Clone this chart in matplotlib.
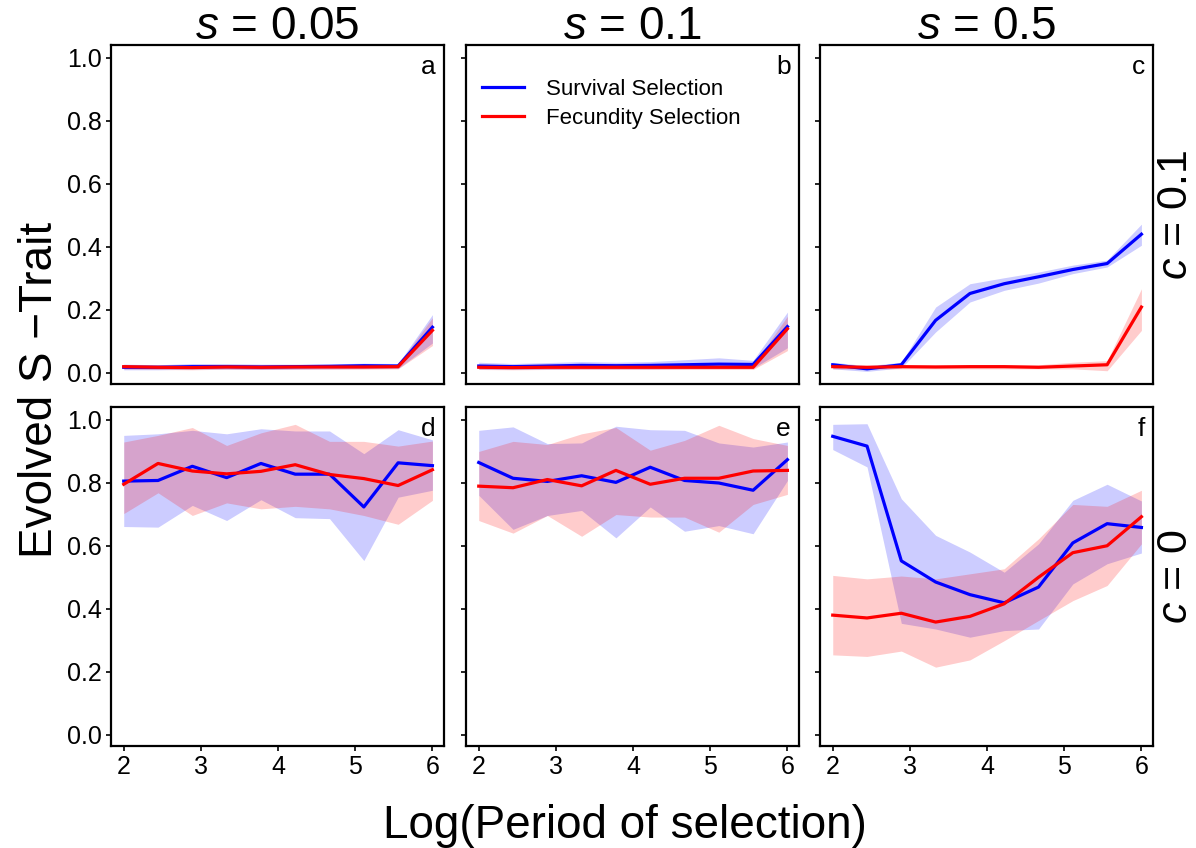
import numpy as np
import matplotlib
matplotlib.use('Agg')
import matplotlib.pyplot as plt

plt.rcParams['font.family'] = ['Liberation Sans', 'DejaVu Sans']
plt.rcParams['mathtext.fontset'] = 'custom'
plt.rcParams['mathtext.it'] = 'Liberation Sans:italic'
plt.rcParams['mathtext.rm'] = 'Liberation Sans'

# log(period of selection), 10 points per panel
log_period = np.linspace(2, 6, 10)

s_labels = ['0.05', '0.1', '0.5']
c_labels = ['0.1', '0']
panel_letters = ['a', 'b', 'c', 'd', 'e', 'f']

# --- row c = 0.1 ---
surv_a = [0.018, 0.018, 0.020, 0.020, 0.019, 0.020, 0.021, 0.023, 0.022, 0.145]
surv_a_lo = [0.010, 0.010, 0.012, 0.012, 0.011, 0.012, 0.013, 0.014, 0.014, 0.095]
surv_a_hi = [0.028, 0.026, 0.030, 0.030, 0.028, 0.028, 0.029, 0.031, 0.030, 0.185]
fec_a = [0.020, 0.018, 0.017, 0.019, 0.018, 0.019, 0.019, 0.019, 0.020, 0.135]
fec_a_lo = [0.013, 0.011, 0.010, 0.012, 0.011, 0.012, 0.012, 0.012, 0.013, 0.087]
fec_a_hi = [0.027, 0.025, 0.024, 0.026, 0.025, 0.026, 0.026, 0.026, 0.027, 0.175]

surv_b = [0.022, 0.020, 0.022, 0.024, 0.023, 0.024, 0.026, 0.028, 0.027, 0.147]
surv_b_lo = [0.012, 0.011, 0.012, 0.013, 0.013, 0.013, 0.014, 0.015, 0.015, 0.080]
surv_b_hi = [0.034, 0.030, 0.033, 0.036, 0.034, 0.036, 0.042, 0.048, 0.040, 0.193]
fec_b = [0.018, 0.017, 0.018, 0.018, 0.018, 0.018, 0.018, 0.018, 0.018, 0.140]
fec_b_lo = [0.011, 0.010, 0.011, 0.011, 0.011, 0.011, 0.011, 0.011, 0.011, 0.071]
fec_b_hi = [0.025, 0.024, 0.025, 0.025, 0.025, 0.025, 0.025, 0.025, 0.025, 0.180]

surv_c = [0.026, 0.013, 0.026, 0.167, 0.252, 0.283, 0.305, 0.328, 0.347, 0.440]
surv_c_lo = [0.013, 0.005, 0.016, 0.130, 0.225, 0.262, 0.285, 0.315, 0.336, 0.405]
surv_c_hi = [0.034, 0.023, 0.034, 0.209, 0.283, 0.302, 0.320, 0.342, 0.358, 0.472]
fec_c = [0.020, 0.018, 0.020, 0.019, 0.020, 0.020, 0.018, 0.022, 0.026, 0.209]
fec_c_lo = [0.013, 0.013, 0.013, 0.013, 0.013, 0.013, 0.013, 0.013, 0.007, 0.135]
fec_c_hi = [0.026, 0.023, 0.026, 0.026, 0.026, 0.026, 0.026, 0.034, 0.039, 0.267]

# --- row c = 0 ---
surv_d = [0.805, 0.807, 0.852, 0.816, 0.861, 0.827, 0.827, 0.723, 0.863, 0.854]
surv_d_lo = [0.661, 0.659, 0.728, 0.680, 0.746, 0.689, 0.686, 0.553, 0.754, 0.776]
surv_d_hi = [0.950, 0.955, 0.966, 0.955, 0.971, 0.964, 0.964, 0.892, 0.968, 0.936]
fec_d = [0.795, 0.861, 0.837, 0.828, 0.836, 0.857, 0.826, 0.813, 0.791, 0.841]
fec_d_lo = [0.702, 0.768, 0.696, 0.736, 0.717, 0.725, 0.717, 0.696, 0.668, 0.744]
fec_d_hi = [0.929, 0.950, 0.975, 0.918, 0.958, 0.985, 0.931, 0.931, 0.916, 0.932]

surv_e = [0.864, 0.814, 0.804, 0.822, 0.801, 0.849, 0.807, 0.799, 0.776, 0.873]
surv_e_lo = [0.760, 0.652, 0.696, 0.712, 0.625, 0.723, 0.646, 0.664, 0.638, 0.807]
surv_e_hi = [0.966, 0.977, 0.924, 0.926, 0.979, 0.968, 0.966, 0.926, 0.913, 0.929]
fec_e = [0.789, 0.784, 0.810, 0.790, 0.839, 0.795, 0.814, 0.814, 0.837, 0.839]
fec_e_lo = [0.680, 0.640, 0.696, 0.630, 0.699, 0.691, 0.691, 0.643, 0.731, 0.763]
fec_e_hi = [0.899, 0.931, 0.921, 0.955, 0.975, 0.903, 0.934, 0.982, 0.940, 0.918]

surv_f = [0.947, 0.916, 0.552, 0.485, 0.445, 0.419, 0.469, 0.609, 0.670, 0.658]
surv_f_lo = [0.905, 0.850, 0.354, 0.336, 0.310, 0.331, 0.336, 0.479, 0.543, 0.577]
surv_f_hi = [0.985, 0.987, 0.749, 0.633, 0.580, 0.516, 0.606, 0.744, 0.795, 0.742]
fec_f = [0.380, 0.371, 0.386, 0.358, 0.376, 0.416, 0.500, 0.578, 0.600, 0.692]
fec_f_lo = [0.254, 0.249, 0.266, 0.215, 0.238, 0.299, 0.363, 0.426, 0.474, 0.606]
fec_f_hi = [0.506, 0.495, 0.504, 0.495, 0.511, 0.527, 0.622, 0.731, 0.725, 0.776]

panels = [
    (surv_a, surv_a_lo, surv_a_hi, fec_a, fec_a_lo, fec_a_hi),
    (surv_b, surv_b_lo, surv_b_hi, fec_b, fec_b_lo, fec_b_hi),
    (surv_c, surv_c_lo, surv_c_hi, fec_c, fec_c_lo, fec_c_hi),
    (surv_d, surv_d_lo, surv_d_hi, fec_d, fec_d_lo, fec_d_hi),
    (surv_e, surv_e_lo, surv_e_hi, fec_e, fec_e_lo, fec_e_hi),
    (surv_f, surv_f_lo, surv_f_hi, fec_f, fec_f_lo, fec_f_hi),
]

W, H = 1196, 848
fig = plt.figure(figsize=(W / 100, H / 100), dpi=100)

lefts = [111, 466, 820]
tops = [45, 407]
pw, ph = 333, 339

blue = '#0000ff'
red = '#ff0000'

for k, pdata in enumerate(panels):
    row, col = divmod(k, 3)
    l = lefts[col]
    t = tops[row]
    ax = fig.add_axes([l / W, (H - t - ph) / H, pw / W, ph / H])
    sv, sl, sh, fv, fl, fh = pdata
    ax.fill_between(log_period, sl, sh, color=blue, alpha=0.2, lw=0)
    ax.plot(log_period, sv, color=blue, lw=2.3, label='Survival Selection')
    ax.fill_between(log_period, fl, fh, color=red, alpha=0.2, lw=0)
    ax.plot(log_period, fv, color=red, lw=2.3, label='Fecundity Selection')
    ax.set_xlim(1.835, 6.15)
    ax.set_ylim(-0.035, 1.04)
    ax.set_yticks(np.arange(0, 1.01, 0.2))
    ax.set_xticks([2, 3, 4, 5, 6])
    for sp in ax.spines.values():
        sp.set_linewidth(1.6)
    ax.tick_params(direction='out', length=3.5, width=1.2, labelsize=18, pad=3)
    if col == 0:
        ax.set_yticklabels(['%.1f' % v for v in np.arange(0, 1.01, 0.2)])
    else:
        ax.set_yticklabels([])
    if row == 0:
        ax.tick_params(axis='x', length=0, labelbottom=False)
    ax.text(0.975, 0.97, panel_letters[k], transform=ax.transAxes,
            ha='right', va='top', fontsize=19)
    if k == 1:
        ax.legend(loc='upper left', bbox_to_anchor=(0.0, 0.945), frameon=False,
                  fontsize=16, handlelength=1.9, handletextpad=1.0,
                  labelspacing=0.35, borderaxespad=0.3)
    if row == 0:
        fig.text((l + pw / 2) / W, 1 - 27 / H, '$s$ = ' + s_labels[col],
                 ha='center', va='center', fontsize=33)
    if col == 2:
        fig.text(1176 / W, 1 - (t + ph / 2) / H, '$c$ = ' + c_labels[row],
                 ha='center', va='center', rotation=90, fontsize=31)

fig.text(625 / W, 1 - 826 / H, 'Log(Period of selection)', ha='center',
         va='center', fontsize=33)
fig.text(40 / W, 1 - 390 / H, 'Evolved S \u2212Trait', ha='center',
         va='center', rotation=90, fontsize=33)

fig.savefig('out.png', dpi=100)
